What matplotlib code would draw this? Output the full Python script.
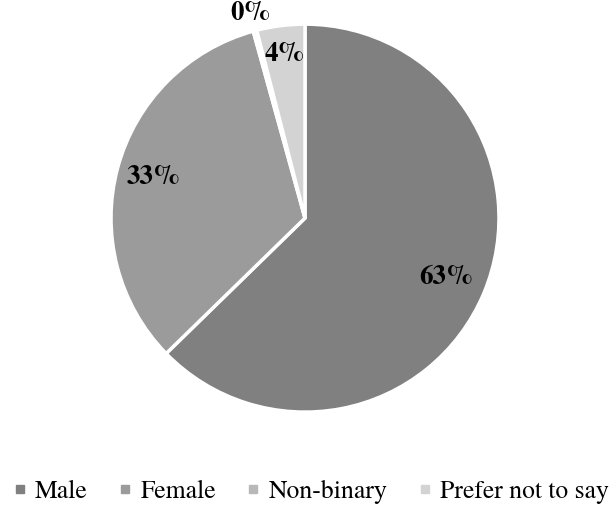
import numpy as np
import matplotlib
matplotlib.use("Agg")
import matplotlib.pyplot as plt
from matplotlib.lines import Line2D

plt.rcParams["font.family"] = "serif"
plt.rcParams["font.serif"] = ["TeX Gyre Termes", "Liberation Serif", "DejaVu Serif"]

labels = ["Male", "Female", "Non-binary", "Prefer not to say"]
shares = [62.7, 33.0, 0.3, 4.0]
pct_text = ["63%", "33%", "0%", "4%"]
colors = ["#808080", "#9b9b9b", "#b8b8b8", "#d3d3d3"]
label_r = [0.79, 0.81, 1.09, 0.85]

fig = plt.figure(figsize=(6.1, 5.12), dpi=100)
ax = fig.add_axes([0.182, 0.195, 0.636, 0.758])

wedges, _ = ax.pie(shares, colors=colors, startangle=90, counterclock=False,
                   wedgeprops=dict(edgecolor="white", linewidth=2.5))

for w, txt, r in zip(wedges, pct_text, label_r):
    mid = np.deg2rad((w.theta1 + w.theta2) / 2)
    ax.text(r * np.cos(mid), r * np.sin(mid), txt, ha="center", va="center",
            fontsize=19.5, fontweight="bold")

ax.set_xlim(-1, 1)
ax.set_ylim(-1, 1)
ax.set_aspect("equal")
ax.axis("off")

handles = [Line2D([], [], marker="s", linestyle="", markersize=6,
                  markerfacecolor=c, markeredgecolor=c) for c in colors]
fig.legend(handles, labels, loc="center", bbox_to_anchor=(0.51, 0.04),
           ncol=4, frameon=False, fontsize=18.5, handlelength=0.5,
           handletextpad=0.35, columnspacing=1.2, borderpad=0)

fig.savefig("out.png", dpi=100)
